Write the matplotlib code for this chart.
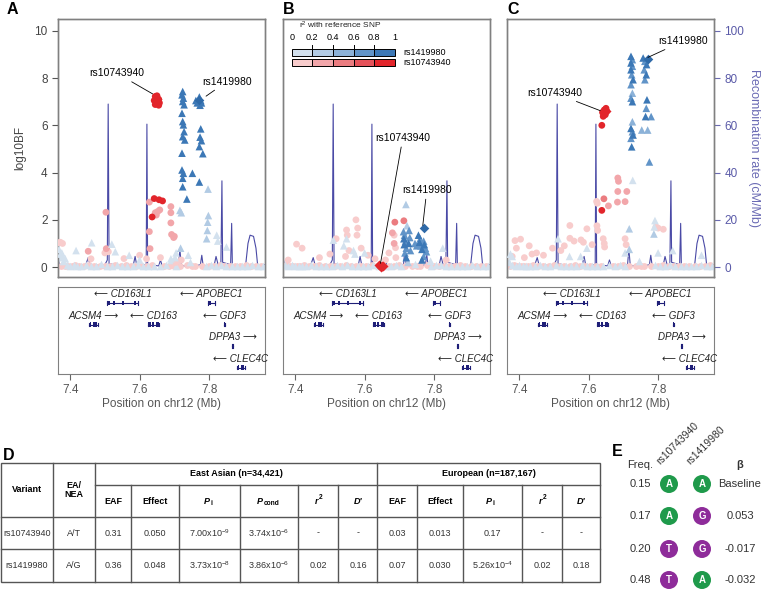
import matplotlib
matplotlib.use('Agg')
import matplotlib.pyplot as plt
from matplotlib.patches import Rectangle, Circle

plt.rcParams['font.family'] = ['Liberation Sans', 'DejaVu Sans']
plt.rcParams['mathtext.fontset'] = 'custom'
plt.rcParams['mathtext.rm'] = 'Liberation Sans'
plt.rcParams['mathtext.it'] = 'Liberation Sans:italic'
plt.rcParams['mathtext.bf'] = 'Liberation Sans:bold'

# ---- recombination rate (cM/Mb) ----
recomb_pos = [7.365, 7.368, 7.40, 7.445, 7.452, 7.458, 7.50, 7.507, 7.5095, 7.512, 7.54, 7.582, 7.587,
              7.592, 7.619, 7.621, 7.623, 7.655, 7.66, 7.665, 7.712, 7.716, 7.72, 7.76, 7.775, 7.779,
              7.783, 7.815, 7.82, 7.826, 7.834, 7.837, 7.839, 7.862, 7.865, 7.867, 7.905, 7.912,
              7.918, 7.928, 7.935, 7.94, 7.96]
recomb_rate = [5, 1, 0.5, 1, 4, 0.5, 1, 3, 69, 1.5, 0.5, 1, 4.5,
               0.5, 1, 60.5, 1, 0.5, 3, 0.5, 1, 7.5, 0.5, 0.5, 1, 5,
               0.5, 1, 4.5, 1, 1, 36.5, 2, 1, 18.5, 1, 0.5, 10,
               13.5, 13, 8, 0.5, 1]

# ---- background SNPs near zero (shared positions) ----
band_tri_x = [7.37, 7.38, 7.39, 7.40, 7.41, 7.42, 7.43, 7.445, 7.46, 7.475, 7.49, 7.505, 7.52,
              7.535, 7.55, 7.565, 7.58, 7.595, 7.61, 7.625, 7.64, 7.66, 7.675, 7.69, 7.705,
              7.745, 7.79, 7.805, 7.82, 7.835, 7.85, 7.865, 7.88, 7.895, 7.91, 7.925, 7.94, 7.955]
band_circ_x = [7.375, 7.385, 7.395, 7.405, 7.415, 7.425, 7.44, 7.455, 7.47, 7.485, 7.50, 7.515,
               7.53, 7.545, 7.56, 7.575, 7.59, 7.605, 7.62, 7.635, 7.67, 7.685, 7.70, 7.715,
               7.735, 7.75, 7.76, 7.78, 7.80, 7.815, 7.83, 7.845, 7.86, 7.875, 7.89, 7.905,
               7.92, 7.935, 7.95]
a_band_tri_y = [0.45, 0.25, 0.10, 0.05, 0.08, 0.05, 0.04, 0.10, 0.05, 0.06, 0.12, 0.05, 0.04,
                0.10, 0.05, 0.06, 0.04, 0.08, 0.05, 0.05, 0.06, 0.04, 0.10, 0.30, 0.05,
                0.20, 0.05, 0.08, 0.04, 0.10, 0.05, 0.06, 0.04, 0.05, 0.05, 0.08, 0.05, 0.04]
b_band_tri_y = [0.10, 0.05, 0.08, 0.04, 0.05, 0.06, 0.05, 0.10, 0.05, 0.04, 0.06, 0.05, 0.08,
                0.04, 0.10, 0.05, 0.06, 0.04, 0.05, 0.08, 0.05, 0.04, 0.06, 0.10, 0.05,
                0.15, 0.05, 0.08, 0.10, 0.05, 0.04, 0.06, 0.05, 0.04, 0.08, 0.05, 0.06, 0.04]
c_band_tri_y = [0.20, 0.08, 0.05, 0.10, 0.05, 0.04, 0.06, 0.05, 0.08, 0.05, 0.04, 0.10, 0.05,
                0.06, 0.05, 0.04, 0.08, 0.05, 0.06, 0.04, 0.05, 0.08, 0.05, 0.10, 0.05,
                0.25, 0.08, 0.05, 0.06, 0.10, 0.05, 0.04, 0.06, 0.05, 0.05, 0.08, 0.04, 0.05]
a_band_circ_y = [0.05, 0.04, 0.06, 0.05, 0.08, 0.05, 0.04, 0.10, 0.05, 0.06, 0.05, 0.04, 0.08,
                 0.05, 0.10, 0.05, 0.06, 0.04, 0.05, 0.08, 0.05, 0.04, 0.06, 0.05, 0.10, 0.05,
                 0.04, 0.06, 0.05, 0.04, 0.08, 0.05, 0.06, 0.04, 0.05, 0.08, 0.05, 0.04, 0.06]
b_band_circ_y = [0.08, 0.05, 0.04, 0.06, 0.05, 0.10, 0.05, 0.04, 0.08, 0.05, 0.06, 0.05, 0.04,
                 0.10, 0.05, 0.06, 0.04, 0.05, 0.08, 0.05, 0.06, 0.04, 0.10, 0.05, 0.04, 0.06,
                 0.05, 0.08, 0.04, 0.05, 0.06, 0.05, 0.04, 0.08, 0.05, 0.04, 0.06, 0.05, 0.05]
c_band_circ_y = [0.05, 0.10, 0.05, 0.04, 0.06, 0.05, 0.08, 0.05, 0.04, 0.06, 0.10, 0.05, 0.04,
                 0.05, 0.08, 0.05, 0.06, 0.04, 0.05, 0.05, 0.06, 0.04, 0.08, 0.05, 0.04, 0.05,
                 0.06, 0.05, 0.04, 0.08, 0.05, 0.06, 0.04, 0.05, 0.05, 0.04, 0.06, 0.05, 0.08]

# ---- panel A : joint ----
a_tri_x = [7.724, 7.722, 7.726, 7.724, 7.728, 7.722, 7.724, 7.726, 7.728, 7.724, 7.730, 7.722, 7.722,
           7.726, 7.724, 7.724, 7.736,
           7.762, 7.766, 7.772, 7.776, 7.774, 7.778, 7.776, 7.774, 7.778, 7.772, 7.782, 7.772, 7.752,
           7.797, 7.798, 7.796, 7.795, 7.793, 7.822, 7.716, 7.720, 7.718, 7.825, 7.850, 7.705, 7.740,
           7.368, 7.372, 7.376, 7.380, 7.386, 7.417, 7.462, 7.520, 7.530, 7.570, 7.600, 7.690, 7.702]
a_tri_y = [7.43, 7.29, 7.15, 7.01, 6.87, 6.51, 6.16, 6.02, 5.73, 5.52, 5.38, 4.82, 4.11,
           3.97, 3.76, 3.40, 2.88,
           7.05, 6.95, 7.20, 7.05, 6.85, 6.95, 5.85, 5.50, 5.35, 5.10, 4.80, 3.60, 3.97,
           3.30, 2.18, 1.90, 1.55, 1.20, 1.35, 2.40, 2.30, 0.80, 1.10, 0.85, 0.60, 0.50,
           0.75, 0.55, 0.60, 0.40, 0.35, 0.70, 1.03, 0.97, 0.65, 0.50, 0.30, 0.35, 0.40]
a_tri_r2 = [0.95, 0.95, 0.95, 0.95, 0.95, 0.9, 0.9, 0.9, 0.9, 0.9, 0.9, 0.9, 0.9,
            0.9, 0.9, 0.9, 0.85,
            0.95, 0.95, 0.95, 0.95, 0.95, 0.95, 0.9, 0.9, 0.9, 0.9, 0.9, 0.85, 0.85,
            0.35, 0.35, 0.3, 0.3, 0.3, 0.15, 0.35, 0.35, 0.3, 0.15, 0.15, 0.1, 0.1,
            0.1, 0.1, 0.1, 0.1, 0.1, 0.1, 0.1, 0.1, 0.1, 0.1, 0.1, 0.1, 0.1]
a_circ_x = [7.645, 7.650, 7.655, 7.642, 7.650, 7.657, 7.645, 7.655, 7.652,
            7.642, 7.656, 7.666, 7.636,
            7.628, 7.645, 7.652, 7.658, 7.648,
            7.628, 7.630, 7.690, 7.690, 7.690, 7.692, 7.698, 7.700, 7.503, 7.504, 7.452,
            7.366, 7.372, 7.378, 7.460, 7.500, 7.510, 7.555, 7.600, 7.620, 7.660, 7.705, 7.720]
a_circ_y = [7.22, 7.25, 7.10, 7.05, 7.00, 6.95, 6.88, 6.85, 7.12,
            2.90, 2.85, 2.80, 2.12,
            2.75, 2.30, 2.35, 2.42, 2.20,
            1.50, 0.78, 2.56, 2.30, 1.87, 1.38, 1.25, 1.30, 2.32, 0.78, 0.67,
            1.03, 1.05, 1.00, 0.35, 0.60, 0.65, 0.36, 0.50, 0.35, 0.40, 0.20, 0.30]
a_circ_r2 = [0.95, 0.95, 0.95, 0.95, 0.95, 0.95, 0.95, 0.95, 0.95,
             0.9, 0.9, 0.9, 0.9,
             0.35, 0.35, 0.35, 0.35, 0.35,
             0.3, 0.3, 0.3, 0.3, 0.3, 0.3, 0.3, 0.3, 0.3, 0.3, 0.3,
             0.1, 0.1, 0.1, 0.1, 0.1, 0.1, 0.1, 0.1, 0.1, 0.1, 0.1, 0.1]

# ---- panel B : conditional ----
b_tri_x = [7.712, 7.715, 7.713, 7.718, 7.714, 7.720, 7.716, 7.720, 7.728, 7.730, 7.727, 7.732,
           7.755, 7.760, 7.758, 7.762, 7.765, 7.770, 7.772, 7.775, 7.778, 7.770, 7.765, 7.750, 7.745,
           7.719, 7.722, 7.540, 7.568, 7.572, 7.600, 7.510, 7.725, 7.790, 7.825, 7.548]
b_tri_y = [1.50, 1.35, 1.20, 1.10, 0.95, 0.80, 0.60, 0.40, 1.55, 1.25, 1.00, 0.70,
           1.35, 1.20, 1.05, 0.90, 0.75, 1.10, 0.95, 0.80, 0.65, 0.45, 0.30, 0.90, 1.00,
           2.65, 1.75, 0.90, 0.70, 0.55, 0.60, 1.14, 0.20, 0.25, 0.80, 1.20]
b_tri_r2 = [0.75, 0.75, 0.9, 0.75, 0.9, 0.75, 0.75, 0.9, 0.75, 0.75, 0.9, 0.75,
            0.9, 0.75, 0.9, 0.75, 0.9, 0.75, 0.9, 0.75, 0.75, 0.75, 0.9, 0.75, 0.75,
            0.35, 0.35, 0.1, 0.1, 0.1, 0.1, 0.1, 0.35, 0.1, 0.1, 0.1]
b_circ_x = [7.687, 7.713, 7.680, 7.685,
            7.575, 7.548, 7.550, 7.578, 7.580, 7.670, 7.690, 7.660, 7.685, 7.689,
            7.404, 7.518, 7.555, 7.545, 7.590, 7.610, 7.630, 7.380, 7.470, 7.500, 7.835, 7.420]
b_circ_y = [1.90, 1.96, 1.45, 1.00,
            2.00, 1.57, 1.35, 1.35, 1.65, 0.60, 0.40, 0.30, 1.35, 0.82,
            0.97, 1.20, 0.70, 0.45, 0.80, 0.50, 0.35, 0.30, 0.40, 0.55, 0.30, 0.80]
b_circ_r2 = [0.5, 0.5, 0.3, 0.3,
             0.15, 0.15, 0.15, 0.15, 0.15, 0.15, 0.15, 0.15, 0.15, 0.15,
             0.1, 0.1, 0.1, 0.1, 0.1, 0.1, 0.1, 0.1, 0.1, 0.1, 0.1, 0.1]

# ---- panel C ----
c_tri_x = [7.722, 7.726, 7.722, 7.726, 7.722, 7.724, 7.728, 7.722, 7.726, 7.722, 7.726, 7.722,
           7.726, 7.728, 7.722, 7.724,
           7.757, 7.762, 7.767, 7.760, 7.766, 7.762, 7.768, 7.766, 7.764, 7.780, 7.775,
           7.726, 7.727, 7.717, 7.717, 7.753, 7.770, 7.791, 7.789, 7.788, 7.800,
           7.512, 7.545, 7.577, 7.595, 7.842, 7.925, 7.375, 7.380, 7.705]
c_tri_y = [8.92, 8.78, 8.64, 8.50, 8.35, 8.14, 7.93, 7.72, 7.36, 7.15, 7.00, 5.87,
           5.73, 5.59, 5.45, 5.09,
           8.85, 8.71, 8.57, 8.35, 8.14, 7.93, 7.08, 6.72, 6.37, 6.37, 4.45,
           6.15, 3.67, 1.62, 0.75, 5.80, 5.80, 1.97, 1.70, 1.40, 0.60,
           1.20, 0.45, 0.45, 0.80, 0.70, 0.50, 0.55, 0.45, 0.60]
c_tri_r2 = [0.85, 0.75, 0.85, 0.75, 0.85, 0.75, 0.85, 0.75, 0.5, 0.75, 0.85, 0.85,
            0.75, 0.85, 0.75, 0.85,
            0.85, 0.75, 0.85, 0.75, 0.85, 0.75, 0.85, 0.75, 0.85, 0.75, 0.6,
            0.5, 0.15, 0.3, 0.3, 0.4, 0.4, 0.1, 0.1, 0.3, 0.1,
            0.1, 0.1, 0.1, 0.1, 0.1, 0.1, 0.1, 0.1, 0.1]
c_circ_x = [7.640, 7.645, 7.650, 7.648, 7.642, 7.652, 7.645,
            7.638, 7.638, 7.644,
            7.657, 7.684, 7.686, 7.684, 7.683, 7.705, 7.710,
            7.623, 7.625, 7.624, 7.626, 7.642, 7.645, 7.646, 7.546, 7.595, 7.578,
            7.558, 7.585, 7.546, 7.388, 7.404, 7.392, 7.429, 7.437, 7.496, 7.450,
            7.470, 7.520, 7.530, 7.610, 7.794, 7.815, 7.800, 7.705, 7.708, 7.380, 7.415]
c_circ_y = [6.55, 6.65, 6.72, 6.45, 6.38, 6.60, 6.50,
            6.00, 2.40, 2.89,
            2.59, 3.77, 3.63, 3.20, 2.75, 2.77, 3.20,
            2.78, 2.70, 1.75, 1.55, 1.20, 1.00, 0.85, 1.76, 1.62, 1.15,
            1.10, 1.05, 1.22, 1.12, 1.18, 0.80, 0.90, 0.55, 0.80, 0.60,
            0.50, 0.70, 0.90, 0.95, 1.70, 1.60, 1.65, 1.20, 0.95, 0.45, 0.40]
c_circ_r2 = [0.95, 0.95, 0.95, 0.95, 0.95, 0.95, 0.95,
             0.9, 0.9, 0.55,
             0.3, 0.3, 0.3, 0.3, 0.3, 0.3, 0.3,
             0.15, 0.15, 0.15, 0.15, 0.15, 0.15, 0.15, 0.15, 0.15, 0.15,
             0.1, 0.1, 0.1, 0.15, 0.15, 0.1, 0.1, 0.1, 0.1, 0.1,
             0.1, 0.1, 0.15, 0.1, 0.15, 0.15, 0.15, 0.1, 0.1, 0.1, 0.1]

# reference SNP positions / values per panel (rs1419980, rs10743940)
ref_pos = [7.770, 7.650]
ref_a = [7.08, 7.10]
ref_b = [1.64, 0.05]
ref_c = [8.80, 6.60]
b_ref2_x = [7.641, 7.648, 7.653]
b_ref2_y = [0.10, 0.00, 0.04]

# ---- genes ----
gene_names = ['CD163L1', 'APOBEC1', 'ACSM4', 'CD163', 'GDF3', 'DPPA3', 'CLEC4C']
gene_start = [7.505, 7.797, 7.454, 7.623, 7.842, 7.866, 7.879]
gene_end = [7.596, 7.817, 7.480, 7.657, 7.845, 7.869, 7.903]
gene_strand = ['-', '-', '+', '-', '-', '+', '-']
gene_row = [0, 0, 1, 1, 1, 2, 3]
gene_exons = [[(7.507, 7.516), (7.523, 7.530), (7.548, 7.556), (7.585, 7.590)],
              [(7.800, 7.806)],
              [(7.456, 7.461), (7.465, 7.478)],
              [(7.625, 7.634), (7.637, 7.642), (7.646, 7.655)],
              [(7.842, 7.845)],
              [(7.866, 7.869)],
              [(7.882, 7.886), (7.892, 7.900)]]

# ---- table D ----
tbl_variant = ['rs10743940', 'rs1419980']
tbl_alleles = ['A/T', 'A/G']
eas_eaf = ['0.31', '0.36']
eas_effect = ['0.050', '0.048']
eas_p = [r'7.00x10$^{-9}$', r'3.73x10$^{-8}$']
eas_pcond = [r'3.74x10$^{-6}$', r'3.86x10$^{-6}$']
eas_r2 = ['-', '0.02']
eas_d = ['-', '0.16']
eur_eaf = ['0.03', '0.07']
eur_effect = ['0.013', '0.030']
eur_p = ['0.17', r'5.26x10$^{-4}$']
eur_r2 = ['-', '0.02']
eur_d = ['-', '0.18']

# ---- haplotypes E ----
hap_freq = ['0.15', '0.17', '0.20', '0.48']
hap_snp1 = ['A', 'A', 'T', 'T']
hap_snp2 = ['A', 'G', 'G', 'A']
hap_beta = ['Baseline', '0.053', '-0.017', '-0.032']

blues = ['#d3e1ee', '#b2cbe4', '#8cb2d8', '#6194c8', '#3c78b6']
reds = ['#f8cccc', '#f2a6aa', '#eb7c80', '#e5525a', '#e2252b']
allele_col = {'A': '#1f9a4b', 'G': '#8e2c9a', 'T': '#8e2c9a'}
line_col = '#4a4aa6'
spine_col = '#808080'

W, H = 764, 593
fig = plt.figure(figsize=(W / 100, H / 100), dpi=100)


def col(r2, pal):
    return pal[min(int(r2 * 5), 4)]


def pts(ax, xs, ys, r2s, pal, marker, s, z):
    idx = sorted(range(len(xs)), key=lambda i: r2s[i])
    ax.scatter([xs[i] for i in idx], [ys[i] for i in idx],
               c=[col(r2s[i], pal) for i in idx], marker=marker, s=s,
               linewidths=0, zorder=z)


def box(px_left, py_top, px_w, px_h):
    return [px_left / W, 1 - (py_top + px_h) / H, px_w / W, px_h / H]


xlim = (7.365, 7.961)
panel_left = [58, 283, 507]
panels = [
    (a_tri_x, a_tri_y, a_tri_r2, a_circ_x, a_circ_y, a_circ_r2, a_band_tri_y, a_band_circ_y, ref_a),
    (b_tri_x, b_tri_y, b_tri_r2, b_circ_x, b_circ_y, b_circ_r2, b_band_tri_y, b_band_circ_y, ref_b),
    (c_tri_x, c_tri_y, c_tri_r2, c_circ_x, c_circ_y, c_circ_r2, c_band_tri_y, c_band_circ_y, ref_c),
]

for k, (tx, ty, tr, cx, cy, cr, bty, bcy, ref) in enumerate(panels):
    ax = fig.add_axes(box(panel_left[k], 19, 207, 258))
    ax2 = ax.twinx()
    ax2.plot(recomb_pos, recomb_rate, color=line_col, lw=0.8)
    ax2.set_ylim(-4.2, 105)
    ax.set_zorder(ax2.get_zorder() + 1)
    ax.patch.set_visible(False)

    ax.scatter(band_circ_x, bcy, c=reds[0], marker='o', s=24, linewidths=0, zorder=2)
    ax.scatter(band_tri_x, bty, c=blues[0], marker='^', s=30, linewidths=0, zorder=2)
    pts(ax, cx, cy, cr, reds, 'o', 24, 3)
    pts(ax, tx, ty, tr, blues, '^', 30, 4)
    ax.scatter([ref_pos[1]], [ref[1]], c=reds[4], marker='D', s=26, linewidths=0, zorder=5)
    ax.scatter([ref_pos[0]], [ref[0]], c='#2f6aa8', marker='D', s=24, linewidths=0, zorder=5)
    if k == 1:
        ax.scatter(b_ref2_x, b_ref2_y, c=reds[4], marker='D', s=26, linewidths=0, zorder=5)

    ax.set_xlim(*xlim)
    ax.set_ylim(-0.42, 10.5)
    ax.set_xticks([])
    for a in (ax, ax2):
        for sp in a.spines.values():
            sp.set_color(spine_col)
            sp.set_linewidth(1)
    if k == 0:
        ax.set_yticks([0, 2, 4, 6, 8, 10])
        ax.tick_params(axis='y', labelsize=8.5, colors='#555555', length=4, labelcolor='#444444')
        ax.set_ylabel('log10BF', fontsize=8.5, color='#444444', labelpad=6)
    else:
        ax.set_yticks([])
    if k == 2:
        ax2.set_yticks([0, 20, 40, 60, 80, 100])
        ax2.tick_params(axis='y', labelsize=8.5, colors='#6a6ab0', length=4, labelcolor='#5a5aa8')
        ax2.set_ylabel('Recombination rate (cM/Mb)', fontsize=9, color='#6a6ab4',
                       rotation=270, labelpad=11)
    else:
        ax2.set_yticks([])

    ann = dict(arrowstyle='-', lw=0.6, color='black', shrinkA=1, shrinkB=1)
    if k == 0:
        ax.annotate('rs10743940', xy=(7.641, 7.3), xytext=(7.535, 8.2), fontsize=7.5,
                    ha='center', va='center', arrowprops=ann, zorder=6)
        ax.annotate('rs1419980', xy=(7.788, 7.2), xytext=(7.851, 7.85), fontsize=7.5,
                    ha='center', va='center', arrowprops=ann, zorder=6)
    elif k == 1:
        ax.annotate('rs10743940', xy=(7.645, 0.1), xytext=(7.71, 5.47), fontsize=7.5,
                    ha='center', va='center', arrowprops=ann, zorder=6)
        ax.annotate('rs1419980', xy=(7.767, 1.7), xytext=(7.779, 3.26), fontsize=7.5,
                    ha='center', va='center', arrowprops=ann, zorder=6)
    else:
        ax.annotate('rs10743940', xy=(7.637, 6.6), xytext=(7.503, 7.36), fontsize=7.5,
                    ha='center', va='center', arrowprops=ann, zorder=6)
        ax.annotate('rs1419980', xy=(7.767, 8.85), xytext=(7.872, 9.56), fontsize=7.5,
                    ha='center', va='center', arrowprops=ann, zorder=6)

    # gene track
    g = fig.add_axes(box(panel_left[k], 287, 207, 87))
    for i, name in enumerate(gene_names):
        r = gene_row[i]
        g.plot([gene_start[i], gene_end[i]], [r, r], color='#1f1f78', lw=0.8)
        g.plot([gene_start[i], gene_start[i]], [r - 0.08, r + 0.08], color='#1f1f78', lw=0.8)
        g.plot([gene_end[i], gene_end[i]], [r - 0.08, r + 0.08], color='#1f1f78', lw=0.8)
        for e0, e1 in gene_exons[i]:
            g.add_patch(Rectangle((e0, r - 0.1), e1 - e0, 0.2, color='#1f1f78', lw=0))
        mid = (gene_start[i] + gene_end[i]) / 2
        lab = '\u27f5 ' + name if gene_strand[i] == '-' else name + ' \u27f6'
        g.text(mid, r - 0.4, lab, fontsize=7, style='italic', ha='center', va='center',
               color='#222222', family=['Liberation Sans', 'DejaVu Sans'])
    g.set_xlim(*xlim)
    g.set_ylim(3.30, -0.744)
    g.set_yticks([])
    g.set_xticks([7.4, 7.6, 7.8])
    g.set_xticklabels(['7.4', '7.6', '7.8'])
    g.tick_params(axis='x', labelsize=8.5, colors='#666666', labelcolor='#555555', length=4)
    g.set_xlabel('Position on chr12 (Mb)', fontsize=8.5, color='#555555', labelpad=1)
    for sp in g.spines.values():
        sp.set_color(spine_col)

# ---- overlay for labels, legend, table, haplotypes ----
ov = fig.add_axes([0, 0, 1, 1])
ov.set_xlim(0, W)
ov.set_ylim(H, 0)
ov.axis('off')
ov.patch.set_visible(False)

for lab, x, y in [('A', 7, 10), ('B', 283, 10), ('C', 507, 10), ('D', 3, 455), ('E', 612, 452)]:
    ov.text(x, y, lab, fontsize=11.5, fontweight='bold', ha='left', va='center')

# legend in B
ov.text(340, 25, r'r$^2$ with reference SNP', fontsize=6, ha='center', va='center', color='#222222')
cw = (395 - 291.7) / 5
for j in range(5):
    ov.add_patch(Rectangle((291.7 + j * cw, 49.3), cw, 6.7, facecolor=blues[j],
                           edgecolor='black', lw=0.7))
    ov.add_patch(Rectangle((291.7 + j * cw, 59.3), cw, 6.7, facecolor=reds[j],
                           edgecolor='black', lw=0.7))
for j, t in enumerate(['0', '0.2', '0.4', '0.6', '0.8', '1']):
    ov.text(291.7 + j * cw, 38, t, fontsize=6.5, ha='center', va='center')
    if 0 < j < 5:
        ov.plot([291.7 + j * cw] * 2, [44.5, 49.3], color='black', lw=0.7)
ov.text(403, 52.7, 'rs1419980', fontsize=6.5, ha='left', va='center')
ov.text(403, 62.7, 'rs10743940', fontsize=6.5, ha='left', va='center')

# table D
lc = '#555555'
tx0, tx1 = 1, 600
ov.add_patch(Rectangle((tx0, 463), tx1 - tx0, 582 - 463, fill=False, edgecolor=lc, lw=1))
ov.plot([95, 600], [485, 485], color=lc, lw=1)
for yy in (517, 549):
    ov.plot([tx0, tx1], [yy, yy], color=lc, lw=1)
for xx in (53, 95, 377):
    ov.plot([xx, xx], [463, 582], color=lc, lw=1)
for xx in (131, 179, 240, 298, 338, 417, 463, 522, 562):
    ov.plot([xx, xx], [485, 582], color=lc, lw=1)

fs = 6.5
ov.text(27, 490, 'Variant', fontsize=fs, fontweight='bold', ha='center', va='center')
ov.text(74, 490, 'EA/\nNEA', fontsize=fs, fontweight='bold', ha='center', va='center',
        linespacing=1.1)
ov.text(236, 474, 'East Asian (n=34,421)', fontsize=fs, fontweight='bold', ha='center', va='center')
ov.text(488.5, 474, 'European (n=187,167)', fontsize=fs, fontweight='bold', ha='center', va='center')

hy = 501


def sub_head(x, main, small, sup=False):
    ov.text(x - 1, hy, main, fontsize=fs, fontweight='bold', style='italic', ha='right', va='center')
    ov.text(x - 0.5, hy - 3.5 if sup else hy + 2.5, small, fontsize=4.8, fontweight='bold',
            ha='left', va='center')


for x, t in [(113, 'EAF'), (155, 'Effect'), (397, 'EAF'), (440, 'Effect')]:
    ov.text(x, hy, t, fontsize=fs, fontweight='bold', ha='center', va='center')
sub_head(211, 'P', 'i')
sub_head(264, 'P', 'cond')
sub_head(319, 'r', '2', sup=True)
sub_head(493, 'P', 'i')
sub_head(543, 'r', '2', sup=True)
ov.text(358, hy, "D'", fontsize=fs, fontweight='bold', style='italic', ha='center', va='center')
ov.text(581, hy, "D'", fontsize=fs, fontweight='bold', style='italic', ha='center', va='center')

centers = [27, 74, 113, 155, 209.5, 269, 318, 358, 397, 440, 492.5, 542, 581]
for i in range(2):
    yy = 533 + 32 * i
    row = [tbl_variant[i], tbl_alleles[i], eas_eaf[i], eas_effect[i], eas_p[i], eas_pcond[i],
           eas_r2[i], eas_d[i], eur_eaf[i], eur_effect[i], eur_p[i], eur_r2[i], eur_d[i]]
    for x, t in zip(centers, row):
        ov.text(x, yy, t, fontsize=fs, ha='center', va='center', color='#333333')

# panel E haplotypes
ov.text(640, 465, 'Freq.', fontsize=8, ha='center', va='center', color='#333333')
ov.text(740, 465, '\u03b2', fontsize=8, fontweight='bold', ha='center', va='center', color='#333333')
ov.text(662, 466, 'rs10743940', fontsize=7.5, rotation=45, rotation_mode='anchor',
        ha='left', va='bottom', color='#333333')
ov.text(692, 466, 'rs1419980', fontsize=7.5, rotation=45, rotation_mode='anchor',
        ha='left', va='bottom', color='#333333')
hap_y = [484, 516, 549, 580]
for i in range(4):
    yy = hap_y[i]
    ov.text(640, yy, hap_freq[i], fontsize=8, ha='center', va='center', color='#333333')
    for xx, al in ((669, hap_snp1[i]), (702, hap_snp2[i])):
        ov.add_patch(Circle((xx, yy), 9, color=allele_col[al], lw=0))
        ov.text(xx, yy, al, fontsize=7, fontweight='bold', color='white', ha='center', va='center')
    ov.text(740, yy, hap_beta[i], fontsize=8, ha='center', va='center', color='#333333')

fig.savefig('out.png', dpi=100)
